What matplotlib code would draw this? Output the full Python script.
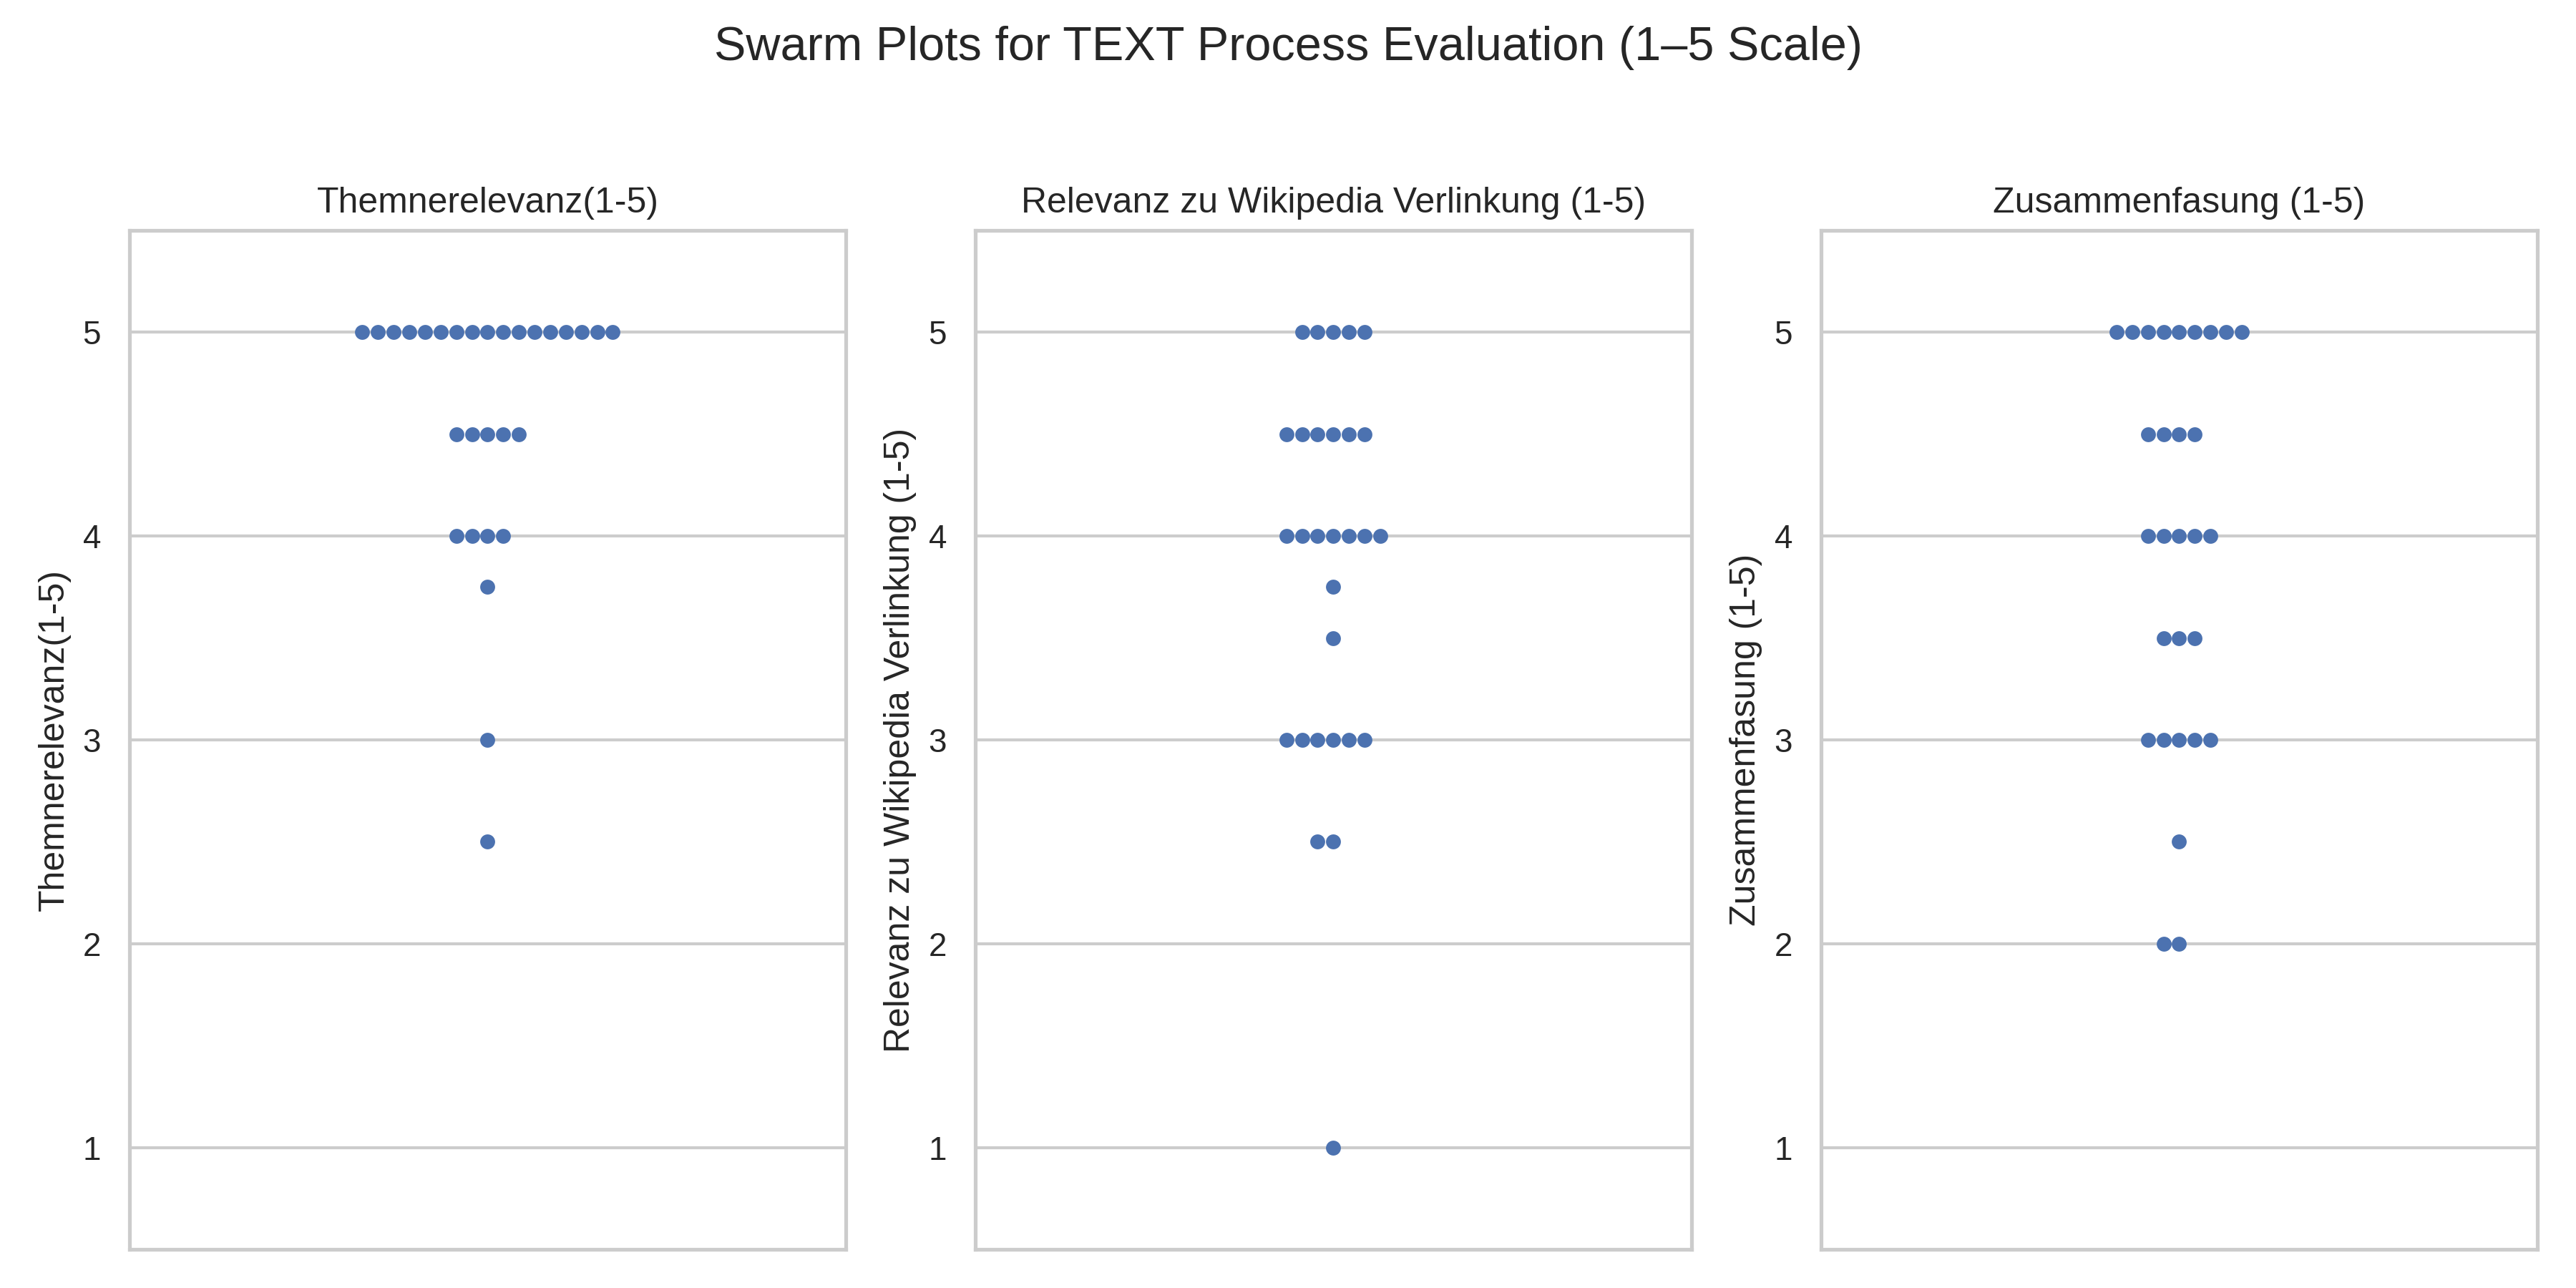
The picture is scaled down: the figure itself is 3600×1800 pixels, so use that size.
import matplotlib
matplotlib.use("Agg")
import matplotlib.pyplot as plt
import seaborn as sns
import pandas as pd

# ratings (29 responses per column)
themen = [5.0] * 17 + [4.5] * 5 + [4.0] * 4 + [3.75, 3.0, 2.5]
wiki = [5.0] * 5 + [4.5] * 6 + [4.0] * 7 + [3.75, 3.5] + [3.0] * 6 + [2.5] * 2 + [1.0]
zusammen = [5.0] * 9 + [4.5] * 4 + [4.0] * 5 + [3.5] * 3 + [3.0] * 5 + [2.5] + [2.0] * 2

columns = ["Themnerelevanz(1-5)", "Relevanz zu Wikipedia Verlinkung (1-5)", "Zusammenfasung (1-5)"]
df = pd.DataFrame({columns[0]: themen, columns[1]: wiki, columns[2]: zusammen})

sns.set_theme(style="whitegrid")
plt.rcParams['font.family'] = ['Liberation Sans', 'DejaVu Sans']

fig, axes = plt.subplots(1, 3, figsize=(12, 6))
for ax, col in zip(axes, columns):
    sns.swarmplot(y=df[col], ax=ax)
    ax.set_title(col)
    ax.set_ylim(0.5, 5.5)

fig.suptitle("Swarm Plots for TEXT Process Evaluation (1–5 Scale)", fontsize=16)
plt.tight_layout(rect=[0, 0, 1, 0.95])
plt.savefig("out.png", dpi=300)
